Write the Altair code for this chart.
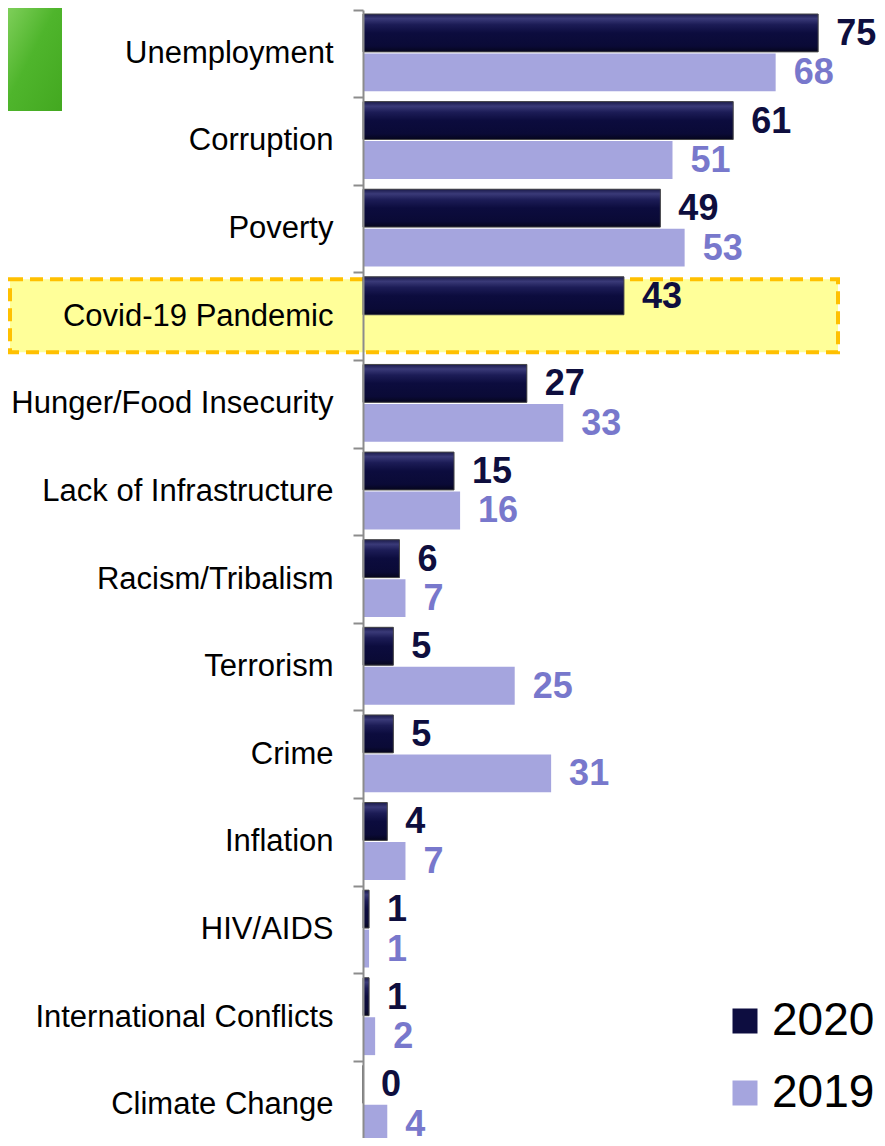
import altair as alt
import pandas as pd

categories = [
    "Unemployment", "Corruption", "Poverty", "Covid-19 Pandemic",
    "Hunger/Food Insecurity", "Lack of Infrastructure", "Racism/Tribalism",
    "Terrorism", "Crime", "Inflation", "HIV/AIDS", "International Conflicts",
    "Climate Change",
]
values_2020 = [75, 61, 49, 43, 27, 15, 6, 5, 5, 4, 1, 1, 0]
values_2019 = [68, 51, 53, None, 33, 16, 7, 25, 31, 7, 1, 2, 4]
series = ["2020", "2019"]
highlight = ["Covid-19 Pandemic"]

rows = []
for c, a, b in zip(categories, values_2020, values_2019):
    rows.append({"category": c, "series": "2020", "value": a})
    if b is not None:
        rows.append({"category": c, "series": "2019", "value": b})
df = pd.DataFrame(rows)

LABEL_FONT = "Liberation Sans, Arial, sans-serif"
NUM_FONT = "Liberation Sans, Arial, sans-serif"

y_enc = alt.Y("category:N", sort=categories,
              scale=alt.Scale(domain=categories, paddingInner=0, paddingOuter=0),
              axis=alt.Axis(title=None, labelFont=LABEL_FONT, labelFontSize=31,
                            labelColor="black", labelPadding=20, tickSize=10,
                            tickColor="#8c8c8c", tickWidth=2, domainColor="#8c8c8c",
                            domainWidth=2, bandPosition=0, zindex=1, labelLimit=0))
yoff_enc = alt.YOffset("series:N",
                       scale=alt.Scale(domain=series, paddingInner=0.04,
                                       paddingOuter=0.13, align=0.39))
x_enc = alt.X("value:Q", scale=alt.Scale(domain=[0, 84.7], nice=False, zero=True), axis=None)

base = alt.Chart(df)

hl = alt.Chart(pd.DataFrame({"category": highlight})).mark_bar(
    height=73, yOffset=-1, fill="#ffff99", stroke="#ffc000", strokeWidth=4,
    strokeDash=[13, 7]
).encode(y=alt.Y("category:N", sort=categories), x=alt.value(-353), x2=alt.value(475))

green = alt.Chart(pd.DataFrame({"k": [0]})).mark_rect(
    fill=alt.Gradient(gradient="linear", x1=0, y1=0, x2=1, y2=1,
                      stops=[alt.GradientStop(color="#7fcf5a", offset=0),
                             alt.GradientStop(color="#4fb52c", offset=0.45),
                             alt.GradientStop(color="#43a820", offset=1)])
).encode(x=alt.value(-355), x2=alt.value(-301), y=alt.value(-3), y2=alt.value(101))

bars = base.mark_bar().encode(
    y=y_enc, yOffset=yoff_enc, x=x_enc,
    color=alt.Color("series:N", scale=alt.Scale(domain=series, range=["#0d0d40", "#a5a5de"]),
                    legend=alt.Legend(title=None, orient="none", legendX=359, legendY=988,
                                      symbolType="square", symbolSize=625,
                                      symbolStrokeWidth=0, labelFontSize=46,
                                      labelFont=NUM_FONT, labelColor="black",
                                      labelOffset=4, rowPadding=26)),
)

dark = base.transform_filter(alt.datum.series == "2020").mark_bar(
    fill=alt.Gradient(gradient="linear", x1=0, y1=0, x2=0, y2=1,
                      stops=[alt.GradientStop(color="#1a1a4a", offset=0),
                             alt.GradientStop(color="#3a3a78", offset=0.12),
                             alt.GradientStop(color="#1c1c56", offset=0.28),
                             alt.GradientStop(color="#0c0c3e", offset=0.5),
                             alt.GradientStop(color="#0a0a36", offset=0.85),
                             alt.GradientStop(color="#05051c", offset=1)]),
    stroke="#4a4a4a", strokeWidth=1,
).encode(y=y_enc, yOffset=yoff_enc, x=x_enc)

labels = base.mark_text(align="left", baseline="middle", dx=18, dy=1, fontSize=36,
                        fontWeight="bold", font=NUM_FONT).encode(
    y=y_enc, yOffset=yoff_enc, x=x_enc, text=alt.Text("value:Q"),
    color=alt.condition(alt.datum.series == "2020", alt.value("#0e0e3e"), alt.value("#7878cc")),
)

chart = alt.layer(hl, green, bars, dark, labels).properties(
    width=514, height=1139, autosize="none",
    padding={"left": 355, "top": 2, "right": 0, "bottom": -11},
).configure_view(stroke=None)

chart.save("out.html", embed_options={"renderer": "svg", "actions": False})
